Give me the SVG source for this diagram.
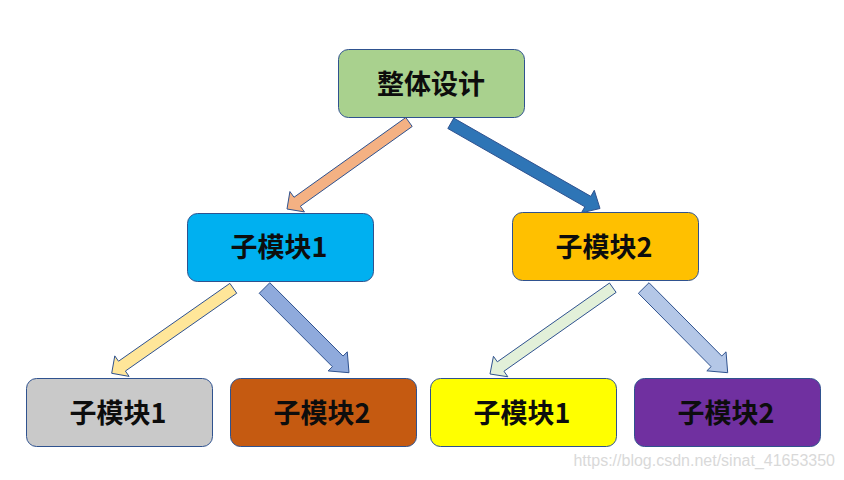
<svg xmlns="http://www.w3.org/2000/svg" width="844" height="480" viewBox="0 0 844 480">
<style>
.box{stroke:#2F528F;stroke-width:1}
.lbl{font-family:"Noto Sans CJK SC","Noto Sans",sans-serif;font-weight:bold;font-size:27px;fill:#0D0D0D;text-anchor:middle;dominant-baseline:central}
.arr{stroke:#2F528F;stroke-width:1;stroke-linejoin:miter}
.wm{font-family:"Liberation Sans",Arial,sans-serif;font-size:16px;fill:#D9D9D9;text-anchor:end}
</style>
<rect width="844" height="480" fill="#FFFFFF"/>
<g id="connectors">
<polygon class="arr" fill="#F4B183" points="405.81,117.52 293.99,197.26 289.92,191.56 287,209 304.44,211.92 300.37,206.22 412.19,126.48"/>
<polygon class="arr" fill="#2E75B6" points="447.82,128.51 584.86,206.77 581.39,212.85 600,208.5 594.29,190.27 590.82,196.35 453.78,118.09"/>
<polygon class="arr" fill="#FFE699" points="229.86,283.38 118.51,361.22 114.79,355.89 111.7,373.3 129.11,376.39 125.39,371.06 236.74,293.22"/>
<polygon class="arr" fill="#8FAADC" points="259.19,293.3 332.39,366.67 328.14,370.91 349,372.7 347.26,351.83 343.01,356.07 269.81,282.7"/>
<polygon class="arr" fill="#E2F0D9" points="609.49,283 497.33,361.82 493.45,356.29 490,374 507.83,376.75 503.95,371.22 616.11,292.4"/>
<polygon class="arr" fill="#B4C7E7" points="638.37,293.28 711.1,366.62 706.84,370.85 727.7,372.7 726.02,351.83 721.76,356.06 649.03,282.72"/>
</g>
<g id="top">
<rect class="box" x="338.5" y="49.5" width="186" height="68" rx="10" fill="#A9D18E"/>
<text class="lbl" x="431" y="82.5">整体设计</text>
</g>
<g id="sub1">
<rect class="box" x="187.5" y="213.5" width="186" height="68" rx="10" fill="#00B0F0"/>
<text class="lbl" x="279" y="245.5">子模块1</text>
</g>
<g id="sub2">
<rect class="box" x="512.5" y="212.5" width="186" height="68" rx="10" fill="#FFC000"/>
<text class="lbl" x="604" y="245">子模块2</text>
</g>
<g id="sub1-1">
<rect class="box" x="26.5" y="378.5" width="186" height="68" rx="10" fill="#C9C9C9"/>
<text class="lbl" x="118" y="411.5">子模块1</text>
</g>
<g id="sub1-2">
<rect class="box" x="230.5" y="378.5" width="186" height="68" rx="10" fill="#C55A11"/>
<text class="lbl" x="322" y="411.5">子模块2</text>
</g>
<g id="sub2-1">
<rect class="box" x="430.5" y="378.5" width="186" height="68" rx="10" fill="#FFFF00"/>
<text class="lbl" x="522" y="411.5">子模块1</text>
</g>
<g id="sub2-2">
<rect class="box" x="634.5" y="378.5" width="186" height="68" rx="10" fill="#7030A0"/>
<text class="lbl" x="726" y="411.5">子模块2</text>
</g>
<text class="wm" x="835" y="466">https://blog.csdn.net/sinat_41653350</text>
</svg>
